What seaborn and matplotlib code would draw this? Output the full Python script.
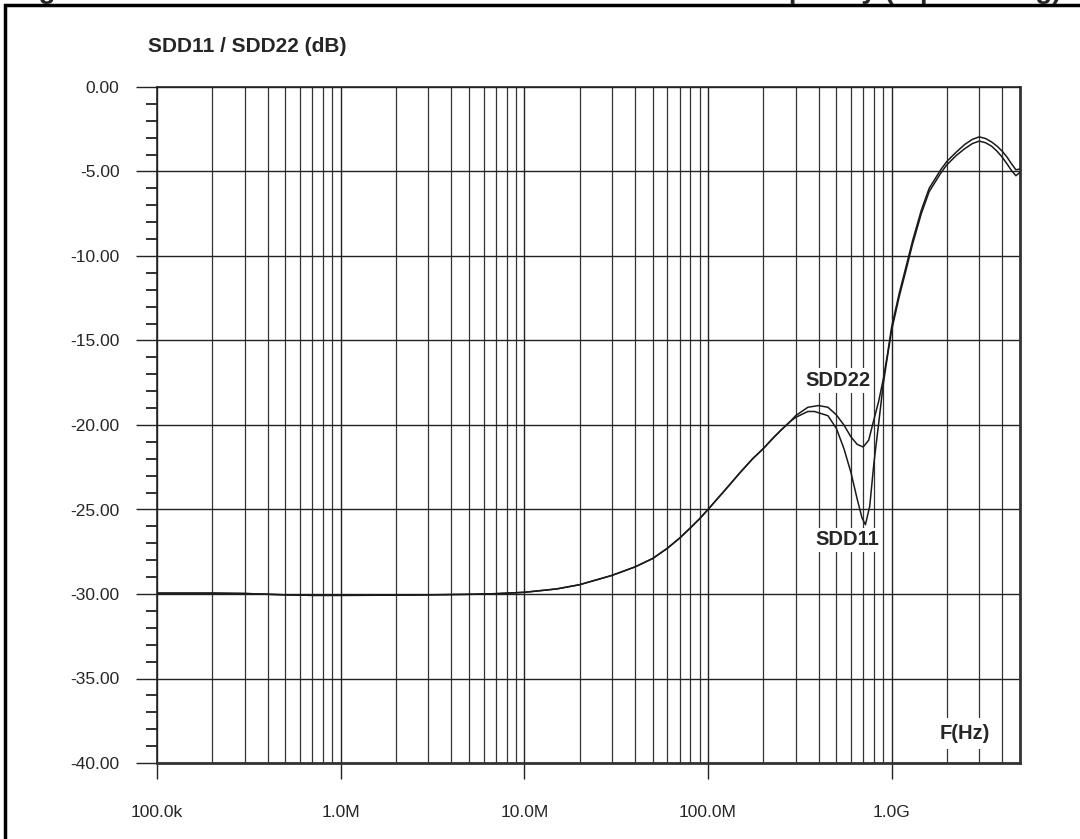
import matplotlib
matplotlib.use("Agg")
import matplotlib.pyplot as plt
from matplotlib.patches import Rectangle
from matplotlib.ticker import LogLocator, MultipleLocator, NullFormatter
import pandas as pd
import seaborn as sns

# values
common_freq = [1e5, 2e5, 3e5, 5e5, 7e5, 1e6, 2e6, 3e6, 5e6, 7e6, 1e7, 1.5e7, 2e7,
               3e7, 4e7, 5e7, 6e7, 7e7, 8e7, 9e7, 1e8, 1.25e8, 1.5e8, 1.75e8, 2e8,
               2.25e8, 2.5e8, 2.8e8]
common_db = [-29.95, -29.95, -29.97, -30.05, -30.08, -30.08, -30.07, -30.05, -30.02,
             -29.98, -29.9, -29.7, -29.45, -28.9, -28.4, -27.9, -27.3, -26.7, -26.1,
             -25.55, -25.0, -23.8, -22.8, -22.0, -21.4, -20.8, -20.3, -19.8]

sdd22_freq = [3e8, 3.5e8, 4e8, 4.5e8, 5e8, 5.5e8, 6e8, 6.5e8, 7e8, 7.5e8, 8e8, 8.5e8,
              9e8, 9.5e8, 1e9, 1.1e9, 1.2e9, 1.3e9, 1.45e9, 1.6e9, 1.85e9, 2e9, 2.25e9,
              2.5e9, 2.75e9, 3e9, 3.25e9, 3.5e9, 3.75e9, 4e9, 4.25e9, 4.5e9, 4.75e9, 5e9]
sdd22_db = [-19.45, -18.95, -18.85, -18.95, -19.4, -20.0, -20.7, -21.15, -21.3, -20.9,
            -19.7, -18.6, -17.3, -15.8, -14.2, -12.2, -10.6, -9.1, -7.3, -6.0, -4.9,
            -4.4, -3.85, -3.4, -3.1, -2.95, -3.05, -3.25, -3.5, -3.8, -4.15, -4.55,
            -4.9, -4.85]

sdd11_freq = [3e8, 3.5e8, 3.8e8, 4.5e8, 5e8, 5.5e8, 6e8, 6.5e8, 6.9e8, 7.2e8, 7.6e8,
              8e8, 8.5e8, 9e8, 9.5e8, 1e9, 1.1e9, 1.2e9, 1.3e9, 1.45e9, 1.6e9, 1.85e9,
              2e9, 2.25e9, 2.5e9, 2.75e9, 3e9, 3.25e9, 3.5e9, 3.75e9, 4e9, 4.25e9,
              4.5e9, 4.75e9, 5e9]
sdd11_db = [-19.55, -19.2, -19.2, -19.45, -20.2, -21.4, -22.8, -24.4, -25.5, -25.9,
            -24.8, -22.3, -19.9, -17.6, -15.9, -14.4, -12.4, -10.8, -9.3, -7.5, -6.2,
            -5.1, -4.6, -4.05, -3.65, -3.35, -3.2, -3.3, -3.5, -3.8, -4.15, -4.55,
            -4.95, -5.25, -5.05]

x_tick_vals = [1e5, 1e6, 1e7, 1e8, 1e9]
x_tick_labels = ["100.0k", "1.0M", "10.0M", "100.0M", "1.0G"]
y_tick_vals = [0, -5, -10, -15, -20, -25, -30, -35, -40]
y_tick_labels = ["0.00", "-5.00", "-10.00", "-15.00", "-20.00", "-25.00", "-30.00",
                 "-35.00", "-40.00"]

title_text = "Figure 9. SDD11 / SDD22 differential return loss versus frequency (top marking)"


def build_frame() -> pd.DataFrame:
    rows = []
    for name, f, d in (("SDD11", sdd11_freq, sdd11_db), ("SDD22", sdd22_freq, sdd22_db)):
        for fx, dx in zip(common_freq + f, common_db + d):
            rows.append({"curve": name, "freq": fx, "db": dx})
    return pd.DataFrame(rows)


sns.set_style("ticks")
plt.rcParams["font.family"] = ["Liberation Sans", "DejaVu Sans"]

fig = plt.figure(figsize=(10.8, 8.39), dpi=100)
ax = fig.add_axes([157 / 1080, 76 / 839, 863 / 1080, 676 / 839])

df = build_frame()
sns.lineplot(data=df, x="freq", y="db", units="curve", estimator=None, color="#1a1a1a",
             linewidth=1.1, sort=False, ax=ax, zorder=5)

ax.set_xscale("log")
ax.set_xlim(1e5, 5e9)
ax.set_ylim(-40, 0)
ax.set_xticks(x_tick_vals, x_tick_labels)
ax.xaxis.set_minor_locator(LogLocator(base=10, subs=[2, 3, 4, 5, 6, 7, 8, 9], numticks=20))
ax.xaxis.set_minor_formatter(NullFormatter())
ax.set_yticks(y_tick_vals, y_tick_labels)
ax.yaxis.set_minor_locator(MultipleLocator(1))
ax.set_xlabel("")
ax.set_ylabel("")

ax.grid(which="major", axis="both", color="#222222", linewidth=1.0)
ax.grid(which="minor", axis="x", color="#333333", linewidth=0.9)
ax.tick_params(axis="x", which="major", direction="out", length=11.5, width=1.0,
               color="#222222", pad=19, labelsize=12.5)
ax.tick_params(axis="x", which="minor", length=0)
ax.tick_params(axis="y", which="major", direction="out", length=15, width=1.0,
               color="#222222", pad=12, labelsize=12.5)
ax.tick_params(axis="y", which="minor", direction="out", length=8, width=1.3,
               color="#222222")

for side in ("left", "top"):
    ax.spines[side].set_linewidth(1.2)
    ax.spines[side].set_color("#222222")
for side in ("right", "bottom"):
    ax.spines[side].set_linewidth(2.0)
    ax.spines[side].set_color("#333333")

box = dict(facecolor="white", edgecolor="none", pad=2)
ax.text(5.1e8, -17.35, "SDD22", ha="center", va="center", fontsize=14.5,
        fontweight="bold", bbox=box, zorder=6)
ax.text(5.75e8, -26.8, "SDD11", ha="center", va="center", fontsize=14.5,
        fontweight="bold", bbox=box, zorder=6)
ax.text(2.5e9, -38.25, "F(Hz)", ha="center", va="center", fontsize=14.5,
        fontweight="bold", bbox=dict(facecolor="white", edgecolor="none", pad=4), zorder=6)

fig.text(148 / 1080, 1 - 47 / 839, "SDD11 / SDD22 (dB)", ha="left", va="center",
         fontsize=15, fontweight="bold")

# title of the page, mostly cut off by the crop as in the source
fig.text(1062 / 1080, 1 + 2 / 839, title_text, ha="right", va="baseline", fontsize=20,
         fontweight="bold")

fig.patches.append(Rectangle((5 / 1080, -0.05), 1.2, 1 - 5 / 839 + 0.05,
                             transform=fig.transFigure, fill=False, edgecolor="black",
                             linewidth=2.5, clip_on=False))

fig.savefig("out.png", dpi=100)
